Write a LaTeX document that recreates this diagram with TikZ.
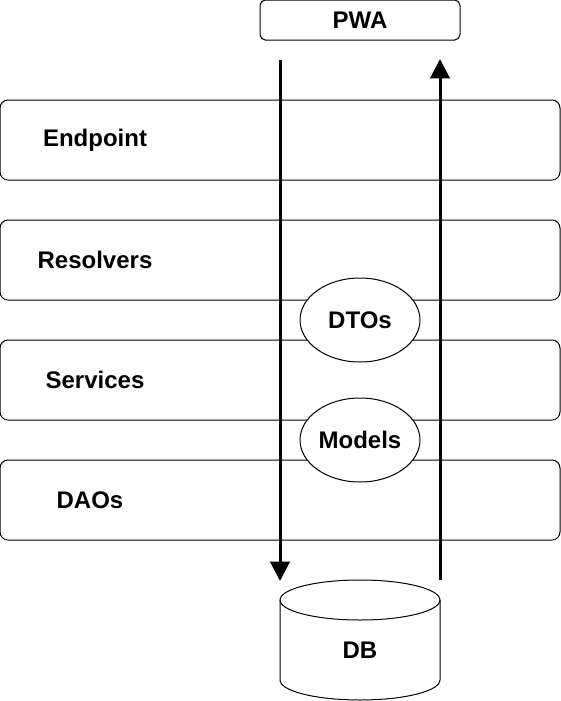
\documentclass[tikz,border=0pt]{standalone}
\usepackage{fontspec}
\setmainfont{Liberation Sans}
\usetikzlibrary{arrows.meta,shapes.geometric}

\tikzset{
  layer/.style={draw, fill=white, rounded corners=6pt, line width=0.75pt,
    minimum width=420pt, minimum height=60pt, inner sep=0pt},
  layerlabel/.style={font=\fontsize{18}{22}\selectfont\bfseries},
  carrier/.style={draw, fill=white, ellipse, line width=0.75pt,
    minimum width=90pt, minimum height=63pt, inner sep=0pt,
    font=\fontsize{18}{22}\selectfont\bfseries},
  flow/.style={line width=2.25pt, -{Triangle[length=14.5pt,width=14.5pt]}}
}

\begin{document}
\begin{tikzpicture}[x=0.75pt, y=-0.75pt]
    \useasboundingbox (0,0) rectangle (561,701);

    % Layers
    \node[layer] (endpoint) at (280,140) {};
    \node[layer] (resolvers) at (280,260) {};
    \node[layer] (services) at (280,380) {};
    \node[layer] (daos) at (280,500) {};
    \node[layerlabel] (endpoint label) at (95,140) {Endpoint};
    \node[layerlabel] (resolvers label) at (95,260) {Resolvers};
    \node[layerlabel] (services label) at (95,380) {Services};
    \node[layerlabel] (daos label) at (90,500) {DAOs};

    % Objects passed between layers
    \node[carrier] (dtos) at (360,320) {DTOs};
    \node[carrier] (models) at (360,440) {Models};

    % Client
    \node[draw, fill=white, rounded corners=4pt, line width=0.75pt,
      minimum width=150pt, minimum height=30pt, inner sep=0pt,
      layerlabel] (pwa) at (360,20) {PWA};

    % Database
    \draw[fill=white, line width=0.75pt] (280,600) -- (280,680)
      arc[start angle=180, end angle=0, x radius=80, y radius=20] -- (440,600)
      arc[start angle=0, end angle=-180, x radius=80, y radius=20] -- cycle;
    \draw[line width=0.75pt] (280,600)
      arc[start angle=180, end angle=0, x radius=80, y radius=20];
    \node[layerlabel] (db) at (360,650) {DB};

    % Request and response
    \coordinate (request top) at (280,60);
    \coordinate (request bottom) at (280,581);
    \coordinate (response bottom) at (440,580);
    \coordinate (response top) at (440,59);
    \draw[flow] (request top) -- (request bottom);
    \draw[flow] (response bottom) -- (response top);
\end{tikzpicture}
\end{document}
